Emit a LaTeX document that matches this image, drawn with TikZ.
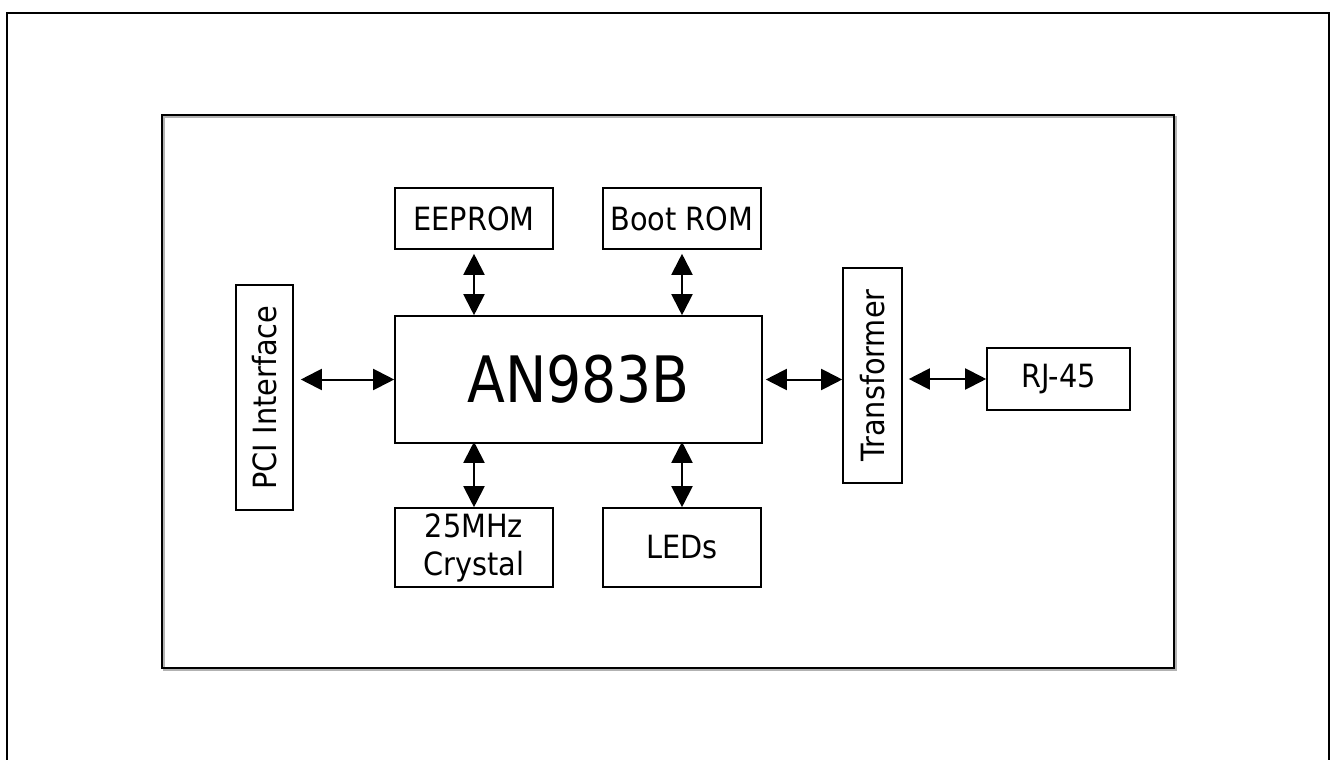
\documentclass[tikz,border=0pt]{standalone}
\usepackage{fontspec}
\setmainfont{DejaVu Sans Condensed}
\newfontfamily\bigfont[FakeStretch=0.96]{DejaVu Sans Condensed}
\usetikzlibrary{arrows.meta}
\begin{document}
\begin{tikzpicture}[x=1pt,y=-1pt,
  blk/.style={draw,line width=1.6pt,inner sep=0pt,font=\fontsize{32}{38}\selectfont,align=center},
  biarrow/.style={line width=2pt,{Triangle[length=21pt,width=21pt]}-{Triangle[length=21pt,width=21pt]}}]
\useasboundingbox (0,0) rectangle (1331,760);
\fill[white] (0,0) rectangle (1331,760);
% outer border
\draw[line width=2pt] (7,790) -- (7,13) -- (1329,13) -- (1329,790);
% inner frame with slight shadow
\draw[line width=2pt,gray!60] (163.5,116.5) rectangle (1175.5,669.5);
\draw[line width=2pt] (162,115) rectangle (1174,668);
% blocks
\node[blk,minimum width=158pt,minimum height=61pt] (ee) at (474,218.5) {EEPROM};
\node[blk,minimum width=158pt,minimum height=61pt] (boot) at (682,218.5) {Boot ROM};
\node[blk,minimum width=367pt,minimum height=127pt,font=\bigfont\fontsize{64}{70}\selectfont] (an) at (578.5,379.5) {AN983B};
\node[blk,minimum width=225pt,minimum height=57pt,rotate=90] (pci) at (264.5,397.5) {PCI Interface};
\node[blk,minimum width=215pt,minimum height=59pt,rotate=90] (trans) at (872.5,375.5) {Transformer};
\node[blk,minimum width=143pt,minimum height=62pt] (rj) at (1058.5,379) {RJ-45};
\node[blk,minimum width=158pt,minimum height=79pt] (cr) at (474,547.5) {25MHz\\Crystal};
\node[blk,minimum width=158pt,minimum height=79pt] (led) at (682,547.5) {LEDs};
% connectors
\draw[biarrow] ([xshift=7pt]pci.south |- an.west) -- (an.west);
\draw[biarrow] ([xshift=3pt]an.east) -- (trans.north |- an.east);
\draw[biarrow] ([xshift=6pt]trans.south |- rj.west) -- (rj.west);
\draw[biarrow] ([yshift=-4pt]ee.south) -- (ee.south |- an.north);
\draw[biarrow] ([yshift=-4pt]boot.south) -- (boot.south |- an.north);
\draw[biarrow] ([yshift=2pt]an.south -| cr.north) -- (cr.north);
\draw[biarrow] ([yshift=2pt]an.south -| led.north) -- (led.north);
\end{tikzpicture}
\end{document}
